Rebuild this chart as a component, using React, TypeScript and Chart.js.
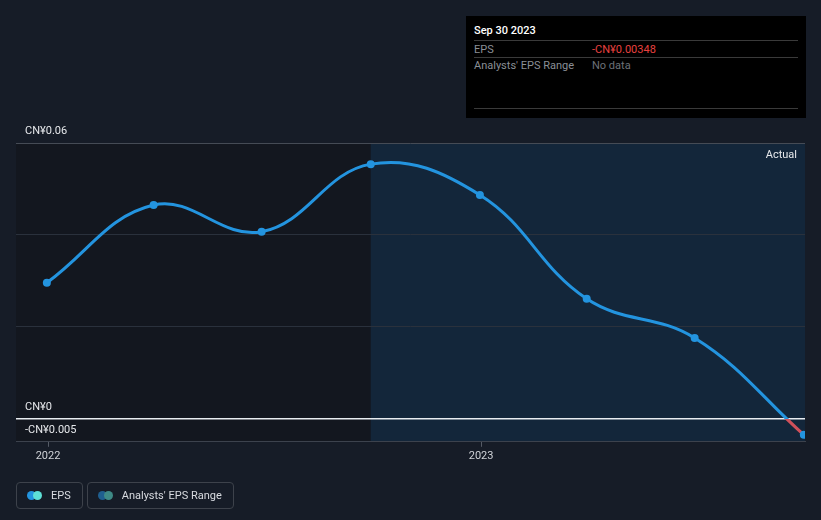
import React, { useEffect, useRef } from "react";
import { Chart, registerables } from "chart.js";

Chart.register(...registerables);

const dates = ["2021-12-31", "2022-03-31", "2022-06-30", "2022-09-30", "2022-12-31", "2023-03-31", "2023-06-30", "2023-09-30"];
const eps = [0.0296, 0.0465, 0.0407, 0.0554, 0.0487, 0.0261, 0.0176, -0.00348];
const yearTicks = ["2022-01-01", "2023-01-01"];
const yearLabels = ["2022", "2023"];
const yTickValues = [-0.005, 0, 0.02, 0.04, 0.06];
const yLabelValues = [0.06, 0, -0.005];
const yLabelTexts = ["CN¥0.06", "CN¥0", "-CN¥0.005"];
const forecastStart = "2022-09-30";

const DAY = 86400000;
const base = Date.UTC(2022, 0, 1);
const toDay = (s: string) => {
  const [y, m, d] = s.split("-").map(Number);
  return (Date.UTC(y, m - 1, d) - base) / DAY;
};

const BLUE = "#2394df";
const RED = "#d0505a";
const FONT = "Roboto, 'Noto Sans', sans-serif";

export default function App() {
  const ref = useRef<HTMLCanvasElement | null>(null);

  useEffect(() => {
    if (!ref.current) return;
    const xs = dates.map(toDay);
    const bgPlugin = {
      id: "bgShade",
      beforeDraw(chart: any) {
        const { ctx, chartArea, scales } = chart;
        if (!chartArea) return;
        const xs0 = scales.x.getPixelForValue(toDay(forecastStart));
        ctx.save();
        ctx.fillStyle = "#13171f";
        ctx.fillRect(chartArea.left, chartArea.top, xs0 - chartArea.left, chartArea.bottom - chartArea.top);
        ctx.fillStyle = "#13263a";
        ctx.fillRect(xs0, chartArea.top, chartArea.right - xs0, chartArea.bottom - chartArea.top);
        ctx.restore();
      },
      afterDraw(chart: any) {
        const { ctx, chartArea, scales } = chart;
        ctx.save();
        ctx.font = `11px ${FONT}`;
        ctx.fillStyle = "#e6e8eb";
        ctx.textBaseline = "middle";
        yLabelValues.forEach((v, i) => {
          const py = scales.y.getPixelForValue(v);
          ctx.textAlign = "left";
          ctx.fillText(yLabelTexts[i], chartArea.left + 9, py - 12);
        });
        ctx.textAlign = "right";
        ctx.fillText("Actual", chartArea.right - 8, chartArea.top + 12);
        ctx.restore();
      },
    };

    const chart = new Chart(ref.current, {
      type: "line",
      data: {
        datasets: [
          {
            label: "EPS",
            data: xs.map((x, i) => ({ x, y: eps[i] })),
            borderColor: (c: any) => {
              const { chart } = c;
              const { chartArea, scales } = chart;
              if (!chartArea) return BLUE;
              const z = scales.y.getPixelForValue(0);
              const g = chart.ctx.createLinearGradient(0, chartArea.top, 0, chartArea.bottom);
              const t = Math.min(1, Math.max(0, (z - chartArea.top) / (chartArea.bottom - chartArea.top)));
              g.addColorStop(0, BLUE);
              g.addColorStop(t, BLUE);
              g.addColorStop(t, RED);
              g.addColorStop(1, RED);
              return g;
            },
            borderWidth: 3,
            tension: 0.4,
            pointRadius: 4,
            pointBackgroundColor: BLUE,
            pointBorderColor: BLUE,
            pointBorderWidth: 0,
            clip: 0 as any,
          },
        ],
      },
      options: {
        animation: false,
        responsive: false,
        maintainAspectRatio: false,
        layout: { padding: { left: 16, right: 16, top: 143, bottom: 54 } },
        plugins: { legend: { display: false }, tooltip: { enabled: false } },
        scales: {
          x: {
            type: "linear",
            min: -27,
            max: 638,
            afterBuildTicks: (axis: any) => {
              axis.ticks = yearTicks.map((s) => ({ value: toDay(s) }));
            },
            ticks: {
              color: "#d0d3d8",
              font: { size: 11, family: FONT },
              padding: 3,
              maxRotation: 0,
              callback: (v: any) => {
                const i = yearTicks.findIndex((s) => toDay(s) === v);
                return i >= 0 ? yearLabels[i] : "";
              },
            },
            grid: { display: true, drawOnChartArea: false, drawTicks: true, tickLength: 5, color: "#555b66" },
            border: { display: true, color: "#3c424d", width: 1 },
          },
          y: {
            min: -0.005,
            max: 0.06,
            afterBuildTicks: (axis: any) => {
              axis.ticks = yTickValues.map((v) => ({ value: v }));
            },
            ticks: { display: false },
            grid: {
              drawTicks: false,
              color: (c: any) => (c.tick && c.tick.value === 0 ? "#e8ecf0" : c.tick && c.tick.value === 0.06 ? "#454b55" : "#2a313c"),
              lineWidth: (c: any) => (c.tick && c.tick.value === 0 ? 1.5 : 1),
            },
            border: { display: false },
          },
        },
      },
      plugins: [bgPlugin],
    } as any);
    return () => chart.destroy();
  }, []);

  const rowStyle: React.CSSProperties = {
    display: "flex",
    height: 16,
    alignItems: "center",
    borderBottom: "1px solid #3a3a3a",
    fontSize: 11,
  };

  return (
    <div style={{ position: "fixed", left: 0, top: 0, width: 821, height: 520, background: "#161c27", fontFamily: FONT, overflow: "hidden" }}>
      <canvas ref={ref} width={821} height={520} style={{ position: "absolute", left: 0, top: 0, width: 821, height: 520 }} />
      <div style={{ position: "absolute", left: 466, top: 16, width: 340, height: 102, background: "#000", boxSizing: "border-box", padding: "0 8px" }}>
        <div style={{ height: 24, display: "flex", alignItems: "flex-end", color: "#fff", fontSize: 11, fontWeight: 500, borderBottom: "1px solid #3a3a3a" }}>
          <span style={{ marginBottom: 3 }}>Sep 30 2023</span>
        </div>
        <div style={rowStyle}>
          <span style={{ width: 118, color: "#8a8f96" }}>EPS</span>
          <span style={{ color: "#e8413f" }}>-CN¥0.00348</span>
        </div>
        <div style={{ ...rowStyle, height: 50, alignItems: "flex-start" }}>
          <span style={{ width: 118, color: "#8a8f96", marginTop: 1 }}>Analysts' EPS Range</span>
          <span style={{ color: "#6c7178", marginTop: 1 }}>No data</span>
        </div>
      </div>
      <div style={{ position: "absolute", left: 16, top: 482, display: "flex", gap: 4 }}>
        <div style={{ height: 25, border: "1px solid #3d424b", borderRadius: 4, display: "flex", alignItems: "center", padding: "0 11px 0 10px", color: "#d8dbe0", fontSize: 11 }}>
          <span style={{ position: "relative", width: 15, height: 9, marginRight: 9 }}>
            <span style={{ position: "absolute", left: 0, top: 0, width: 9, height: 9, borderRadius: 5, background: "#2394df" }} />
            <span style={{ position: "absolute", left: 6, top: 0, width: 9, height: 9, borderRadius: 5, background: "#5ee0d6" }} />
          </span>
          EPS
        </div>
        <div style={{ height: 25, border: "1px solid #3d424b", borderRadius: 4, display: "flex", alignItems: "center", padding: "0 11px 0 10px", color: "#d8dbe0", fontSize: 11 }}>
          <span style={{ position: "relative", width: 15, height: 9, marginRight: 9 }}>
            <span style={{ position: "absolute", left: 0, top: 0, width: 9, height: 9, borderRadius: 5, background: "#1f5f8f" }} />
            <span style={{ position: "absolute", left: 6, top: 0, width: 9, height: 9, borderRadius: 5, background: "#3e8a86" }} />
          </span>
          Analysts' EPS Range
        </div>
      </div>
    </div>
  );
}
